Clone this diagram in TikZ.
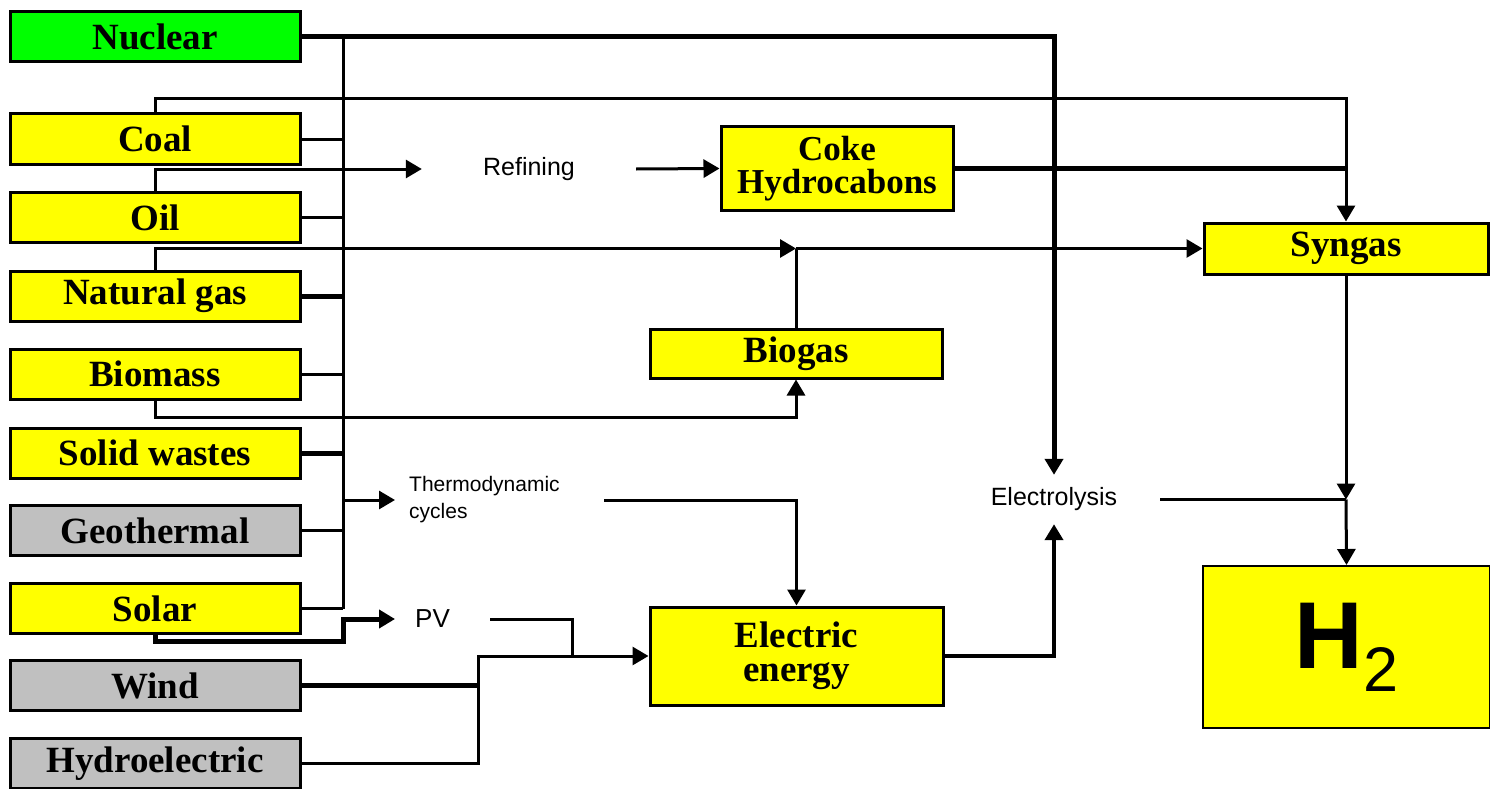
\documentclass[tikz,border=0pt]{standalone}
\usepackage{fontspec}
\setmainfont{Liberation Serif}
\newfontfamily\arialf{Liberation Sans}
\usetikzlibrary{arrows.meta}
\definecolor{ylw}{HTML}{FFFF00}
\definecolor{grn}{HTML}{00FF00}
\definecolor{gry}{HTML}{C0C0C0}
\begin{document}
\begin{tikzpicture}[x=1pt,y=-1pt,
  src/.style={draw=black, line width=3pt, fill=ylw, minimum width=290pt, minimum height=50pt, inner sep=0pt, font=\fontsize{37}{31}\selectfont\bfseries},
  proc/.style={inner sep=0pt, font=\arialf\fontsize{25}{30}\selectfont},
  ln/.style={line width=3pt},
  thk/.style={line width=5pt},
  arr/.style={-{Triangle[length=16pt,width=18pt]}},
]
\useasboundingbox (0,0) rectangle (1490,789);

% source boxes
\node[src, fill=grn] (nuc) at (155,36.5) {Nuclear};
\node[src] (coal) at (155,139) {Coal};
\node[src] (oil) at (155,217.5) {Oil};
\node[src] (ng) at (155,296) {Natural gas};
\node[src] (bms) at (155,374) {Biomass};
\node[src] (sw) at (155,453) {Solid wastes};
\node[src, fill=gry] (geo) at (155,530.5) {Geothermal};
\node[src] (sol) at (155,608.5) {Solar};
\node[src, fill=gry] (wind) at (155,685.5) {Wind};
\node[src, fill=gry] (hyd) at (155,763.5) {Hydroelectric};

% intermediate boxes
\node[src, minimum width=232pt, minimum height=83pt, align=center, font=\fontsize{35}{33}\selectfont\bfseries] (coke) at (837,168.5) {Coke\\Hydrocabons};
\node[src, minimum width=292pt, minimum height=49pt] (bio) at (796,353.5) {Biogas};
\node[src, minimum width=293pt, minimum height=98pt, align=center, font=\fontsize{37}{34}\selectfont\bfseries] (elec) at (796.5,656) {Electric\\energy};
\node[src, minimum width=284pt, minimum height=51pt] (syn) at (1346,248.5) {Syngas};
\node[src, line width=2pt, minimum width=287pt, minimum height=162pt, font=\arialf\bfseries\fontsize{95}{95}\selectfont] (h2) at (1346.5,647) {H\raisebox{-23pt}{\fontsize{63}{63}\mdseries\selectfont 2}};

% process labels
\node[proc, minimum width=214pt, minimum height=30pt] (ref) at (529,169) {Refining};
\node[proc, anchor=west, inner xsep=14pt, text width=181pt, align=left, font=\arialf\fontsize{21}{27}\selectfont] (thermo) at (395,500) {Thermodynamic\\cycles};
\node[proc, anchor=west, inner xsep=20pt, text width=55pt, align=left, font=\arialf\fontsize{26}{30}\selectfont] (pv) at (395,619) {PV};
\node[proc, minimum width=212pt, minimum height=49pt] (elys) at (1054,499.5) {Electrolysis};

% junction coordinates
\coordinate (busTop) at (343,36.5);
\coordinate (busBot) at (343,608.5);
\coordinate (cT) at (1346,99);
\coordinate (bgT) at (796,248.5);
\coordinate (bgB) at (796,417);
\coordinate (solL) at (343,641);
\coordinate (jW) at (478,656);
\coordinate (jPV) at (572,656);
\coordinate (jH) at (1346,499.5);

% bus
\draw[ln] (busTop) -- (busBot);
\draw[thk,arr] (nuc.east) -| (elys.north);
\foreach \n in {coal,oil,bms,geo}{\draw[ln] (\n.east) -- (\n.east -| busTop);}
\foreach \n in {ng,sw}{\draw[thk] (\n.east) -- (\n.east -| busTop);}
\draw[ln] (sol.east) -- (busBot);

% upper flows
\draw[ln,arr] (coal.north) |- (cT) -- (syn.north);
\draw[ln,arr] (oil.north) |- (ref.west);
\draw[ln,arr] (ref.east) -- (coke.west);
\draw[thk] (coke.east) -- (coke.east -| cT);
\draw[ln,arr] (ng.north) |- (bgT);
\draw[ln,arr] (bgT) -- (syn.west);
\draw[ln] (bio.north) -- (bgT);
\draw[ln,arr] (bms.south) |- (bgB) -- (bio.south);

% lower flows
\draw[ln,arr] (busBot |- thermo.west) -- (thermo.west);
\draw[ln,arr] (thermo.east) -| (elec.north);
\draw[thk,arr] (sol.south) |- (solL) |- (pv.west);
\draw[ln] (pv.east) -| (jPV);
\draw[thk] (wind.east) -- (wind.east -| jW);
\draw[ln,arr] (hyd.east) -| (jW) -- (elec.west);
\draw[line width=4pt,arr] (elec.east) -| (elys.south);
\draw[ln] (elys.east) -- (jH);
\draw[ln,arr] (syn.south) -- (jH);
\draw[ln,arr] (jH) -- (h2.north);
\end{tikzpicture}
\end{document}
